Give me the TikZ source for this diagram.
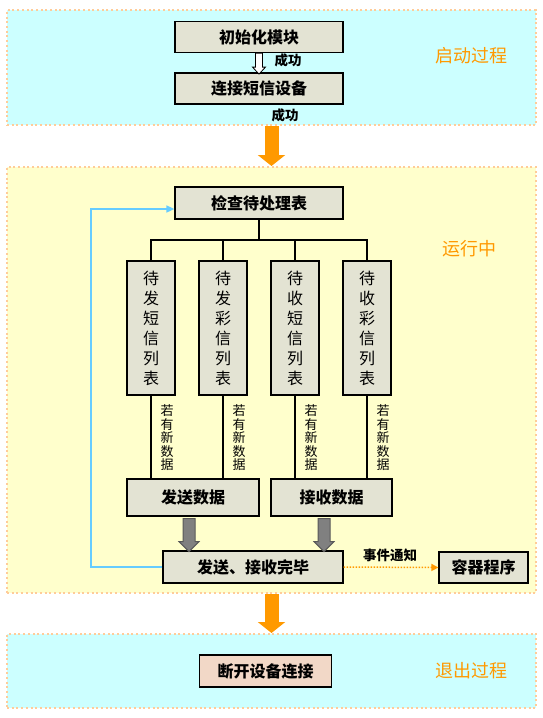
\documentclass[tikz,border=0pt]{standalone}
\usepackage{fontspec}
\setmainfont{Noto Sans CJK SC}
\usetikzlibrary{arrows.meta}
\definecolor{cyanbg}{HTML}{CCFFFF}
\definecolor{yellowbg}{HTML}{FFFFCC}
\definecolor{dotorange}{HTML}{FFCC99}
\definecolor{boxgray}{HTML}{E3E3D3}
\definecolor{peach}{HTML}{F2D8C7}
\definecolor{arroworange}{HTML}{FF9900}
\definecolor{loopblue}{HTML}{66CCFF}
\tikzset{
  panel/.style={draw=dotorange, line width=2pt, dash pattern=on 2pt off 2.7pt, inner sep=0pt},
  box/.style={draw, line width=1.2pt, fill=boxgray, inner sep=0pt,
    font=\bfseries\fontsize{16}{19}\selectfont},
  listbox/.style={draw, line width=1.2pt, fill=boxgray, inner sep=0pt, align=center,
    minimum width=48pt, minimum height=134pt, font=\fontsize{16}{20}\selectfont},
  note/.style={align=center, inner sep=0pt, font=\fontsize{13}{13.5}\selectfont},
  phase/.style={text=arroworange, font=\fontsize{18}{20}\selectfont},
  tag/.style={font=\bfseries\fontsize{13.5}{15}\selectfont},
  tree/.style={line width=1.6pt},
  bigarrow/.style={arroworange, line width=14pt, -{Triangle[width=27pt,length=11pt]}},
  fatgray/.style={draw=black!65, fill=black!50, line width=1pt},
}
\begin{document}
\begin{tikzpicture}[x=1pt,y=-1pt]
\useasboundingbox (0,0) rectangle (542,718);
% three phases
\node[panel, fill=cyanbg, minimum width=529pt, minimum height=115pt] (start) at (271.5,67.5) {};
\node[panel, fill=yellowbg, minimum width=529pt, minimum height=426pt] (run) at (271.5,380) {};
\node[panel, fill=cyanbg, minimum width=529pt, minimum height=74pt] (stop) at (271.5,671) {};
\node[phase] (startlbl) at (471,56) {启动过程};
\node[phase] (runlbl) at (469,249) {运行中};
\node[phase] (stoplbl) at (471,671) {退出过程};
\draw[bigarrow] (start.south) -- (run.north);
\draw[bigarrow] (run.south) -- (stop.north);
% start
\node[box, minimum width=168pt, minimum height=31pt] (init) at (259,37) {初始化模块};
\node[box, minimum width=168pt, minimum height=31pt] (conn) at (259,88.5) {连接短信设备};
\draw[fill=white, line width=0.8pt, shift={(init.south)}] (-3.5,0) -- (3.5,0) -- (3.5,14) -- (6.5,14) -- (0,21) -- (-6.5,14) -- (-3.5,14) -- cycle;
\node[tag] (ok1) at (288,60) {成功};
\node[tag] (ok2) at (285,115) {成功};
% running
\node[box, minimum width=168pt, minimum height=32pt] (check) at (259,203) {检查待处理表};
\coordinate (bus) at (259,240);
\node[listbox] (col1) at (151,328) {待\\发\\短\\信\\列\\表};
\node[listbox] (col2) at (223,328) {待\\发\\彩\\信\\列\\表};
\node[listbox] (col3) at (295,328) {待\\收\\短\\信\\列\\表};
\node[listbox] (col4) at (367,328) {待\\收\\彩\\信\\列\\表};
\draw[tree] (check.south) -- (bus);
\draw[tree] (col1.north) -- (col1.north |- bus) -- (col4.north |- bus) -- (col4.north);
\draw[tree] (col2.north) -- (col2.north |- bus);
\draw[tree] (col3.north) -- (col3.north |- bus);
\node[box, minimum width=132pt, minimum height=37pt] (send) at (193,497.5) {发送数据};
\node[box, minimum width=121pt, minimum height=37pt] (recv) at (331.5,497.5) {接收数据};
\foreach \i in {1,2} \draw[tree] (col\i.south) -- (col\i.south |- send.north);
\foreach \i in {3,4} \draw[tree] (col\i.south) -- (col\i.south |- recv.north);
\foreach \i in {1,...,4} \node[note] (new\i) at ([xshift=16pt,yshift=-42pt]col\i.south) {若\\有\\新\\数\\据};
\node[box, minimum width=180pt, minimum height=32pt] (done) at (253,567) {发送、接收完毕};
\draw[fatgray, shift={([xshift=-4pt,yshift=-2pt]send.south)}] (-6,0) -- (6,0) -- (6,23) -- (10,23) -- (0,33) -- (-10,23) -- (-6,23) -- cycle;
\draw[fatgray, shift={([xshift=-7.5pt,yshift=-2pt]recv.south)}] (-6,0) -- (6,0) -- (6,23) -- (10,23) -- (0,33) -- (-10,23) -- (-6,23) -- cycle;
\node[box, minimum width=89pt, minimum height=31pt] (holder) at (483.5,567.5) {容器程序};
\draw[arroworange, line width=1.5pt, dash pattern=on 1.5pt off 1.5pt, -{Triangle[width=7pt,length=7pt]}] (done.east) -- (holder.west);
\node[tag] (event) at (390,555) {事件通知};
% back to the table
\coordinate (loop) at (91,209);
\draw[loopblue, line width=1.5pt, -{Triangle[width=7pt,length=8pt]}] (done.west) -| (loop) -- (loop -| check.west);
% stop
\node[box, fill=peach, minimum width=132pt, minimum height=32pt] (close) at (265.5,671) {断开设备连接};
\end{tikzpicture}
\end{document}
